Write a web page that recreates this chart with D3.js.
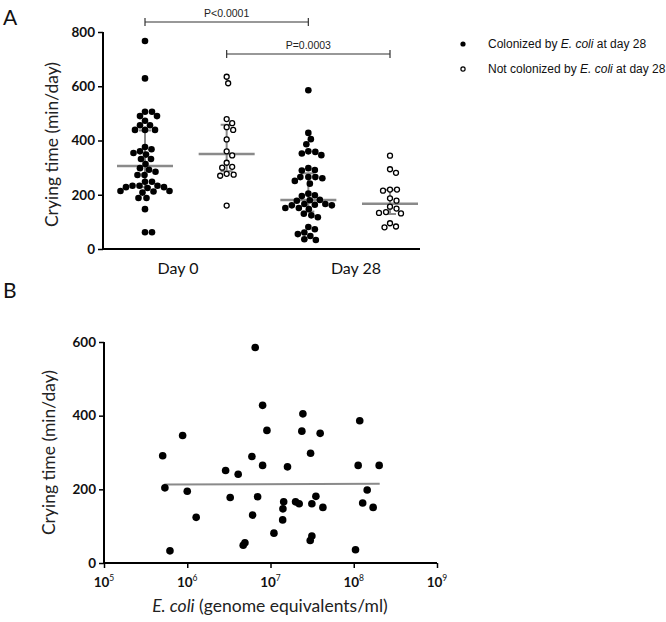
<!DOCTYPE html>
<html><head><meta charset="utf-8">
<script src="https://cdn.jsdelivr.net/npm/d3@7"></script>
<style>
body{margin:0;background:#fff;}
svg{display:block;}
</style></head>
<body><svg id="c" width="666" height="622"></svg>
<script>
// ---------- DATA ----------
const groupNames = ["Day 0 colonized","Day 0 not colonized","Day 28 colonized","Day 28 not colonized"];
const dayLabels = ["Day 0","Day 28"];
const day0Colonized = [767,629,506,506,490,490,473,456,456,439,439,439,376,368,360,354,348,332,332,313,298,292,285,273,273,248,248,233,233,228,225,233,228,212,214,214,208,188,188,147,62,62];
const day0NotColonized = [635,611,479,464,449,439,404,360,345,318,303,300,277,270,274,160];
const day28NotColonized = [344,294,281,219,215,219,187,178,156,149,133,131,136,95,80,83];
// Panel B: E. coli count (genome equivalents/ml) and crying time at day 28 (colonized infants)
const ecoli = [5.07e5,5.39e5,6.2e5,8.8e5,1.0e6,1.28e6,2.89e6,3.28e6,4.09e6,4.7e6,4.93e6,5.98e6,6.1e6,6.55e6,7.0e6,8.04e6,8.04e6,9.06e6,1.10e7,1.40e7,1.41e7,1.44e7,1.60e7,2.0e7,2.21e7,2.38e7,2.45e7,3.03e7,3.14e7,3.0e7,3.14e7,3.51e7,3.95e7,4.26e7,1.05e8,1.13e8,1.18e8,1.28e8,1.45e8,1.71e8,2.02e8];
const crying28 = [291,204,33,346,195,124,251,178,241,48,55,289,130,585,180,265,428,360,81,117,147,166,261,166,161,358,405,298,161,61,73,181,352,151,36,265,386,163,198,151,265];
const day28Colonized = crying28;
const medians = [306,350,181,167];
const q1 = [228,287,138,129];
const q3 = [437,458,279,218];
const yTicksA = [0,200,400,600,800];
const yTicksB = [0,200,400,600];
const xTicksB = [1e5,1e6,1e7,1e8,1e9];
const regression = [{x:5.3e5,y:213},{x:2.05e8,y:215}];
const pvalues = [{from:0,to:2,label:"P<0.0001"},{from:1,to:3,label:"P=0.0003"}];
const legendLabels = [{filled:true,pre:"Colonized by ",it:"E. coli",post:" at day 28"},{filled:false,pre:"Not colonized by ",it:"E. coli",post:" at day 28"}];

const groups = [day0Colonized, day0NotColonized, day28Colonized, day28NotColonized];
const filled = [true,false,true,false];

const svg = d3.select("#c");
const F = "Lato, 'Open Sans', sans-serif";
const GRAY = "#8a8a8a";

// ---------- PANEL A ----------
const yA = d3.scaleLinear().domain([0,800]).range([249,32]);
const xA = d3.scaleLinear().domain([0,3]).range([145,390]);
const xDay = d3.scalePoint().domain(dayLabels).range([178,356]);

const gA = svg.append("g");
gA.append("line").attr("x1",103).attr("x2",420).attr("y1",yA(0)).attr("y2",yA(0)).attr("stroke","#000").attr("stroke-width",2);
const axA = gA.append("g").attr("transform","translate(103,0)")
  .call(d3.axisLeft(yA).tickValues(yTicksA).tickSize(5).tickPadding(3));
axA.select(".domain").attr("stroke-width",2).attr("d",`M-0,${yA(800)}V${yA(0)}`);
axA.selectAll(".tick line").attr("stroke-width",1.5);
axA.selectAll("text").attr("font-family",F).attr("font-size",13.5).attr("font-weight","bold").attr("fill","#111");

gA.selectAll(".daylab").data(dayLabels).join("text")
  .attr("x",d=>xDay(d)).attr("y",274).attr("text-anchor","middle")
  .attr("font-family",F).attr("font-size",16).attr("fill","#111").text(d=>d);

gA.append("text").attr("transform",`translate(58,${(yA(0)+yA(800))/2+4}) rotate(-90)`)
  .attr("text-anchor","middle").attr("font-family",F).attr("font-size",17.5).attr("fill","#222")
  .text("Crying time (min/day)");

// beeswarm dodge
function dodge(vals, cx, y, d){
  const pts = vals.map(v=>({v, y:y(v)})).sort((a,b)=>a.y-b.y);
  const placed=[];
  for(const p of pts){
    let best=null;
    for(let k=0;k<200 && best===null;k++){
      const offs = k===0?[0]:[k*0.5,-k*0.5];
      for(const o of offs){
        const x=cx+o;
        if(placed.every(q=>(q.x-x)**2+(q.y-p.y)**2 >= d*d)){best=x;break;}
      }
    }
    p.x=best; placed.push(p);
  }
  return placed;
}

groups.forEach((vals,i)=>{
  const cx = xA(i);
  gA.append("line").attr("x1",cx).attr("x2",cx).attr("y1",yA(q1[i])).attr("y2",yA(q3[i])).attr("stroke",GRAY).attr("stroke-width",2);
  [q1[i],q3[i]].forEach(v=>gA.append("line").attr("x1",cx-6).attr("x2",cx+6).attr("y1",yA(v)).attr("y2",yA(v)).attr("stroke",GRAY).attr("stroke-width",2));
  gA.append("line").attr("x1",cx-28).attr("x2",cx+28).attr("y1",yA(medians[i])).attr("y2",yA(medians[i])).attr("stroke",GRAY).attr("stroke-width",2.5);
  const pts = dodge(vals,cx,yA,6.6);
  gA.selectAll(null).data(pts).join("circle")
    .attr("cx",d=>d.x).attr("cy",d=>d.y)
    .attr("r",filled[i]?3.3:2.5)
    .attr("fill",filled[i]?"#000":"#fff")
    .attr("stroke","#000").attr("stroke-width",filled[i]?0:1.3);
});

// p-value brackets
const bracketY = [22,54];
pvalues.forEach((p,i)=>{
  const x1=xA(p.from), x2=xA(p.to), by=bracketY[i];
  const g=gA.append("g").attr("stroke","#333").attr("stroke-width",1.2);
  g.append("line").attr("x1",x1).attr("x2",x2).attr("y1",by).attr("y2",by);
  g.append("line").attr("x1",x1).attr("x2",x1).attr("y1",by-4).attr("y2",by+4);
  g.append("line").attr("x1",x2).attr("x2",x2).attr("y1",by-4).attr("y2",by+4);
  gA.append("text").attr("x",(x1+x2)/2).attr("y",by-5).attr("text-anchor","middle")
    .attr("font-family","'Liberation Sans', Arial, sans-serif").attr("font-size",10.5).attr("fill","#222").text(p.label);
});

// legend
legendLabels.forEach((l,i)=>{
  const ly = 44 + i*25;
  svg.append("circle").attr("cx",463).attr("cy",ly).attr("r",l.filled?2.6:2.1)
    .attr("fill",l.filled?"#000":"#fff").attr("stroke","#000").attr("stroke-width",l.filled?0:1.2);
  const t = svg.append("text").attr("x",488).attr("y",ly+4).attr("font-family","'Liberation Sans', Arial, sans-serif")
    .attr("font-size",12).attr("fill","#111").attr("letter-spacing",0);
  t.append("tspan").text(l.pre);
  t.append("tspan").attr("font-style","italic").text(l.it);
  t.append("tspan").text(l.post);
});

// panel letters
svg.append("text").attr("x",3).attr("y",25).attr("font-family",F).attr("font-size",21).attr("fill","#111").text("A");
svg.append("text").attr("x",3).attr("y",298).attr("font-family",F).attr("font-size",21).attr("fill","#111").text("B");

// ---------- PANEL B ----------
const yB = d3.scaleLinear().domain([0,600]).range([563,342]);
const xB = d3.scaleLog().domain([1e5,1e9]).range([104,437]);
const gB = svg.append("g");
const axBy = gB.append("g").attr("transform","translate(104,0)")
  .call(d3.axisLeft(yB).tickValues(yTicksB).tickSize(5).tickPadding(3));
axBy.select(".domain").attr("stroke-width",2).attr("d",`M-0,${yB(600)}V${yB(0)}`);
axBy.selectAll(".tick line").attr("stroke-width",1.5);
axBy.selectAll("text").attr("font-family",F).attr("font-size",13.5).attr("font-weight","bold").attr("fill","#111");

const axBx = gB.append("g").attr("transform",`translate(0,${yB(0)})`)
  .call(d3.axisBottom(xB).tickValues(xTicksB).tickSize(5).tickFormat(""));
axBx.select(".domain").attr("stroke-width",2).attr("d",`M104,0H437`);
axBx.selectAll(".tick line").attr("stroke-width",1.5);
xTicksB.forEach(v=>{
  const t=gB.append("text").attr("x",xB(v)).attr("y",587).attr("text-anchor","middle")
    .attr("font-family",F).attr("font-size",13.5).attr("font-weight","bold").attr("fill","#111");
  t.append("tspan").text("10");
  t.append("tspan").attr("dy",-6).attr("font-size",8.5).attr("font-weight","normal").text(Math.round(Math.log10(v)));
});

gB.append("line").attr("x1",xB(regression[0].x)).attr("x2",xB(regression[1].x))
  .attr("y1",yB(regression[0].y)).attr("y2",yB(regression[1].y)).attr("stroke",GRAY).attr("stroke-width",2);

gB.selectAll(".pt").data(ecoli.map((e,i)=>({e,c:crying28[i]}))).join("circle")
  .attr("cx",d=>xB(d.e)).attr("cy",d=>yB(d.c)).attr("r",3.8).attr("fill","#000");

gB.append("text").attr("transform",`translate(55,${(yB(0)+yB(600))/2}) rotate(-90)`)
  .attr("text-anchor","middle").attr("font-family",F).attr("font-size",17.5).attr("fill","#222")
  .text("Crying time (min/day)");
const xl = gB.append("text").attr("x",270).attr("y",612).attr("text-anchor","middle")
  .attr("font-family",F).attr("font-size",17.5).attr("fill","#222");
xl.append("tspan").attr("font-style","italic").text("E. coli");
xl.append("tspan").text(" (genome equivalents/ml)");
</script></body></html>
